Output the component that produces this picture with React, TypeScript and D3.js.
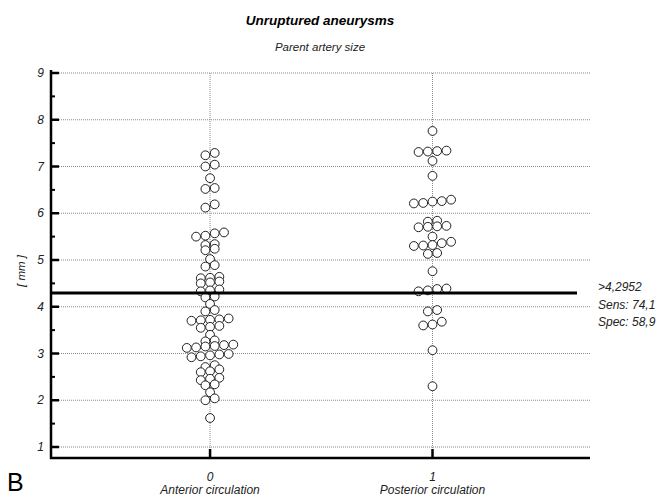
import React from "react";
import * as d3 from "d3";

// values (mm)
const groupCodes = ["0", "1"];
const groupNames = ["Anterior circulation", "Posterior circulation"];

const anterior = [
  7.24, 7.29, 7.0, 7.04, 6.75, 6.52, 6.54, 6.12, 6.19,
  5.5, 5.52, 5.57, 5.59, 5.32, 5.34, 5.21, 5.24, 5.02, 4.86, 4.89,
  4.61, 4.62, 4.64, 4.5, 4.52, 4.54, 4.33, 4.35, 4.37, 4.2, 4.22, 4.06,
  3.9, 3.93, 3.7, 3.71, 3.72, 3.73, 3.75, 3.55, 3.57, 3.59, 3.4, 3.26, 3.28,
  3.12, 3.13, 3.15, 3.16, 3.18, 3.19, 2.92, 2.94, 2.96, 2.98, 2.99,
  2.71, 2.75, 2.6, 2.62, 2.66, 2.43, 2.46, 2.48, 2.32, 2.34, 2.17, 2.0, 2.04, 1.62,
];

const posterior = [
  7.76, 7.31, 7.32, 7.33, 7.34, 7.12, 6.8, 6.21, 6.22, 6.25, 6.26, 6.29,
  5.82, 5.84, 5.7, 5.71, 5.72, 5.73, 5.5, 5.3, 5.31, 5.32, 5.36, 5.39,
  5.13, 5.15, 4.76, 4.33, 4.35, 4.38, 4.39, 3.9, 3.93, 3.6, 3.62, 3.68, 3.07, 2.3,
];

const yTicks = [1, 2, 3, 4, 5, 6, 7, 8, 9];
const yMinor = [1.5, 2.5, 3.5, 4.5, 5.5, 6.5, 7.5, 8.5];
const cutoff = 4.2952;
const cutoffText = [">4,2952", "Sens: 74,1", "Spec: 58,9"];

const W = 670, H = 498;
const left = 51, right = 590, top = 70, bottom = 458;
const font = "'Liberation Sans', Arial, sans-serif";

// spread points sharing a 0.1 mm bin side by side, like the original dot plot
function swarm(values: number[], step: number) {
  const bins = d3.group(values, (v) => Math.floor(v * 10 + 1e-6));
  const out: { v: number; dx: number }[] = [];
  bins.forEach((vals) => {
    const s = vals.slice().sort(d3.ascending);
    s.forEach((v, i) => out.push({ v, dx: (i - (s.length - 1) / 2) * step }));
  });
  return out;
}

export default function App() {
  const x = d3.scaleLinear().domain([-0.715, 1.708]).range([left, right]);
  const y = d3.scaleLinear().domain([1, 9]).range([447, 73]);
  const series = [anterior, posterior];

  return (
    <svg width={W} height={H} style={{ position: "absolute", left: 0, top: 0, background: "#fff" }} fontFamily={font}>
      <text x={320} y={25} textAnchor="middle" fontSize={13.5} fontWeight="bold" fontStyle="italic">Unruptured aneurysms</text>
      <text x={320} y={51} textAnchor="middle" fontSize={11.5} fontStyle="italic" fill="#222">Parent artery size</text>

      {/* grid */}
      {yTicks.map((t) => (
        <line key={"g" + t} x1={left} x2={right} y1={y(t)} y2={y(t)} stroke="#8a8a8a" strokeWidth={1} strokeDasharray="1,1" />
      ))}
      {groupCodes.map((c, i) => (
        <line key={"v" + c} x1={x(i)} x2={x(i)} y1={y(9)} y2={bottom} stroke="#8a8a8a" strokeWidth={1} strokeDasharray="1,1" />
      ))}

      {/* axes */}
      <line x1={left} x2={left} y1={top} y2={bottom + 1} stroke="#000" strokeWidth={2.5} />
      <line x1={left - 1} x2={right} y1={bottom} y2={bottom} stroke="#000" strokeWidth={2.5} />
      {yTicks.map((t) => (
        <g key={"t" + t}>
          <line x1={left} x2={left + 8} y1={y(t)} y2={y(t)} stroke="#000" strokeWidth={2.5} />
          <text x={44} y={y(t)} dy="0.35em" textAnchor="end" fontSize={12} fontStyle="italic" fill="#222">{t}</text>
        </g>
      ))}
      {yMinor.map((t) => (
        <line key={"m" + t} x1={left} x2={left + 4} y1={y(t)} y2={y(t)} stroke="#000" strokeWidth={2} />
      ))}
      {groupCodes.map((c, i) => (
        <g key={"x" + c}>
          <line x1={x(i)} x2={x(i)} y1={bottom} y2={bottom - 9} stroke="#000" strokeWidth={2.5} />
          <text x={x(i)} y={481} textAnchor="middle" fontSize={12} fontStyle="italic" fill="#222">{c}</text>
          <text x={x(i)} y={494} textAnchor="middle" fontSize={12} fontStyle="italic" fill="#222">{groupNames[i]}</text>
        </g>
      ))}
      <text transform={`translate(25,${y(5) + 11}) rotate(-90)`} textAnchor="middle" fontSize={11.5} fontStyle="italic" fill="#222">[ mm ]</text>

      {/* points */}
      {series.map((vals, i) =>
        swarm(vals, 9.3).map((p, j) => (
          <circle key={i + "-" + j} cx={x(i) + p.dx} cy={y(p.v)} r={4.4} fill="#fff" stroke="#222" strokeWidth={1} />
        ))
      )}

      {/* cut-off */}
      <line x1={left} x2={577} y1={y(cutoff)} y2={y(cutoff)} stroke="#000" strokeWidth={3} />
      {cutoffText.map((t, i) => (
        <text key={t} x={598} y={291 + i * 17.5} fontSize={12} fontStyle="italic" fill="#222">{t}</text>
      ))}

      <text x={7} y={491} fontSize={25} fill="#000">B</text>
    </svg>
  );
}
